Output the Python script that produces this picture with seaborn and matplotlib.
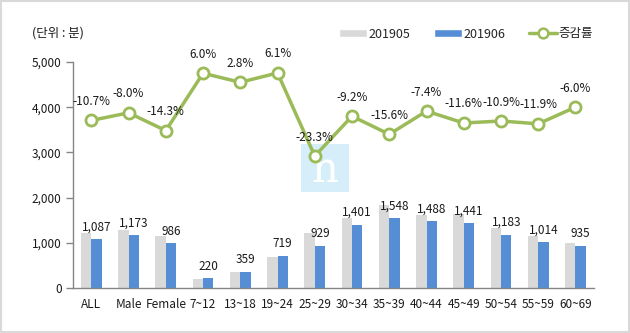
import numpy as np
import pandas as pd
import matplotlib
matplotlib.use("Agg")
import matplotlib.pyplot as plt
from matplotlib.patches import Rectangle
from matplotlib.lines import Line2D
import seaborn as sns

categories = ["ALL", "Male", "Female", "7~12", "13~18", "19~24", "25~29", "30~34",
              "35~39", "40~44", "45~49", "50~54", "55~59", "60~69"]
may_2019 = [1217, 1275, 1150, 208, 349, 678, 1211, 1543, 1834, 1607, 1630, 1328, 1151, 995]
jun_2019 = [1087, 1173, 986, 220, 359, 719, 929, 1401, 1548, 1488, 1441, 1183, 1014, 935]
change_pct = [-10.7, -8.0, -14.3, 6.0, 2.8, 6.1, -23.3, -9.2, -15.6, -7.4, -11.6, -10.9, -11.9, -6.0]
series_names = ["201905", "201906"]
line_name = "증감률"
unit_label = "(단위 : 분)"

sns.set_theme(style="white")
plt.rcParams["font.family"] = ["Noto Sans CJK KR", "DejaVu Sans"]

GRAY = "#D9D9D9"
BLUE = "#558ED5"
GREEN = "#9BBB59"
AXC = "#868686"
TXT = "#1a1a1a"
FS = 8.5

df = pd.DataFrame({
    "cat": categories * 2,
    "value": may_2019 + jun_2019,
    "series": [series_names[0]] * len(categories) + [series_names[1]] * len(categories),
})

fig = plt.figure(figsize=(6.3, 3.33), dpi=100)
ax = fig.add_axes([0.1154, 0.135, 0.943 - 0.1154, 0.814 - 0.135])
ax.patch.set_alpha(0)
sns.barplot(data=df, x="cat", y="value", hue="series", order=categories,
            hue_order=series_names, palette=[GRAY, BLUE], width=0.56,
            saturation=1, ax=ax, legend=False, errorbar=None, linewidth=0)
ax.set_ylim(0, 5000)
ax.set_xlim(-0.5, len(categories) - 0.5)
ax.set_yticks(range(0, 5001, 1000))
ax.set_yticklabels([f"{v:,}" for v in range(0, 5001, 1000)], fontsize=FS, color=TXT)
ax.set_xticks(range(len(categories)))
ax.set_xticklabels(categories, fontsize=FS, color=TXT)
ax.set_xticks(np.arange(-0.5, len(categories), 1), minor=True)
ax.tick_params(axis="x", which="major", length=0, pad=7)
ax.tick_params(axis="x", which="minor", length=5, color=AXC, width=1, direction="out")
ax.tick_params(axis="y", length=5, color=AXC, width=1, direction="out", pad=3, left=True)
ax.set_xlabel("")
ax.set_ylabel("")
for s in ["top", "right"]:
    ax.spines[s].set_visible(False)
for s in ["left", "bottom"]:
    ax.spines[s].set_color(AXC)
    ax.spines[s].set_linewidth(1)

# value labels on 201906 bars
ax.bar_label(ax.containers[1], labels=[f"{v:,}" for v in jun_2019], padding=4,
             fontsize=FS, color=TXT)

# watermark (behind the axes)
fig.patches.append(Rectangle((301 / 630, (333 - 192) / 333), 48 / 630, 48 / 333,
                             transform=fig.transFigure, facecolor="#D6EEF9",
                             edgecolor="none", zorder=-2))
fig.text(325 / 630, (333 - 170) / 333, "n", color="white", fontsize=30,
         family="DejaVu Serif", ha="center", va="center", zorder=-1)

# line on secondary axis
ax2 = ax.twinx()
ax2.patch.set_alpha(0)
ax2.set_ylim(-70, 10)
sns.lineplot(x=np.arange(len(categories)), y=change_pct, ax=ax2, color=GREEN,
             linewidth=2.5, marker="o", markersize=8, markerfacecolor="white",
             markeredgecolor=GREEN, markeredgewidth=2)
ax2.set_axis_off()
for i, p in enumerate(change_pct):
    ax2.annotate(f"{p:.1f}%", (i, p), xytext=(0, 9), textcoords="offset points",
                 ha="center", va="bottom", fontsize=FS, color=TXT)

# legend
handles = [Rectangle((0, 0), 1, 1, facecolor=GRAY),
           Rectangle((0, 0), 1, 1, facecolor=BLUE),
           Line2D([0], [0], color=GREEN, lw=2.5, marker="o", markersize=7,
                  markerfacecolor="white", markeredgecolor=GREEN, markeredgewidth=1.8)]
fig.legend(handles, series_names + [line_name], loc="center", ncol=3,
           bbox_to_anchor=(466 / 630, (333 - 34) / 333), frameon=False, fontsize=9,
           handlelength=2.2, handleheight=0.55, columnspacing=1.9, handletextpad=0.15)

fig.text(32 / 630, (333 - 33) / 333, unit_label, fontsize=9, color=TXT,
         ha="left", va="center")

# outer border
fig.patches.append(Rectangle((0.001, 0.002), 0.997, 0.995, transform=fig.transFigure,
                             facecolor="none", edgecolor="#D9D9D9", linewidth=1.5))

fig.savefig("out.png", dpi=100)
